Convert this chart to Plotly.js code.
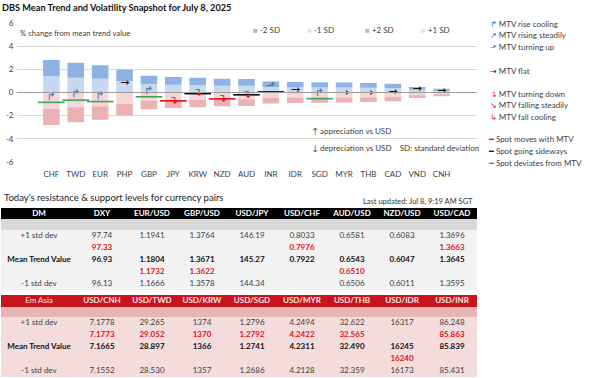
<!DOCTYPE html>
<html>
<head>
<meta charset="utf-8">
<script src="https://cdn.plot.ly/plotly-3.0.1.min.js"></script>
<style>html,body{margin:0;padding:0;background:#fff;}#chart{width:605px;height:378px;}</style>
</head>
<body>
<div id="chart"></div>
<script>
// ---------- chart data ----------
const categories = ['CHF','TWD','EUR','PHP','GBP','JPY','KRW','NZD','AUD','INR','IDR','SGD','MYR','THB','CAD','VND','CNH'];
const sd1 = [1.40,1.28,1.18,0.99,0.72,0.67,0.64,0.59,0.58,0.48,0.45,0.44,0.43,0.41,0.38,0.24,0.16];
const spot = [-0.85,-0.66,-0.78,0.80,-0.37,-0.72,-0.10,-0.55,-0.20,0.05,0.20,-0.53,-0.10,-0.05,0.05,0.30,0.10];
const spotState = ['deviates','deviates','deviates',null,'deviates','moves','sideways','moves','sideways','sideways',null,'deviates',null,null,null,null,null];
const mtvState = ['riseCooling','riseCooling','riseCooling','flat','riseCooling','turningDown','turningDown','turningDown','turningDown','turningUp','flat','riseCooling','flat','flat','flat','flat','flat'];
const yTicks = [-6,-4,-2,0,2,4,6];

// ---------- table data ----------
const dmPairs = ['DXY','EUR/USD','GBP/USD','USD/JPY','USD/CHF','AUD/USD','NZD/USD','USD/CAD'];
const dmPlus1 = ['97.74','1.1941','1.3764','146.19','0.8033','0.6581','0.6083','1.3696'];
const dmSpotAbove = ['97.33','','','','0.7976','','','1.3663'];
const dmMTV = ['96.93','1.1804','1.3671','145.27','0.7922','0.6543','0.6047','1.3645'];
const dmSpotBelow = ['','1.1732','1.3622','','','0.6510','',''];
const dmMinus1 = ['96.13','1.1666','1.3578','144.34','','0.6506','0.6011','1.3595'];

const emPairs = ['USD/CNH','USD/TWD','USD/KRW','USD/SGD','USD/MYR','USD/THB','USD/IDR','USD/INR'];
const emPlus1 = ['7.1778','29.265','1374','1.2796','4.2494','32.622','16317','86.248'];
const emSpotAbove = ['7.1773','29.052','1370','1.2792','4.2422','32.565','','85.863'];
const emMTV = ['7.1665','28.897','1366','1.2741','4.2311','32.490','16245','85.839'];
const emSpotBelow = ['','','','','','','16240',''];
const emMinus1 = ['7.1552','28.530','1357','1.2686','4.2128','32.359','16173','85.431'];
const rowLabels = ['+1 std dev', '', 'Mean Trend Value', '', '-1 std dev'];

// ---------- styles ----------
const W = 605, H = 378;
const FONT = 'Lato, "Open Sans", sans-serif';
const px = v => v / W;
const py = v => 1 - v / H;

const spotColors = {moves:'#e3121b', sideways:'#111111', deviates:'#3aa655'};
const mtvGlyph = {
  riseCooling:{t:'\u21B1', c:'#2e75b6', p:'top center'},
  risingSteadily:{t:'\u2197', c:'#2e75b6', p:'middle center'},
  turningUp:{t:'\u2B0F', c:'#2e75b6', p:'top center'},
  flat:{t:'\u2192', c:'#111111', p:'middle center'},
  turningDown:{t:'\u21B4', c:'#e3121b', p:'middle center'},
  fallingSteadily:{t:'\u2198', c:'#e3121b', p:'middle center'},
  fallCooling:{t:'\u21B3', c:'#e3121b', p:'middle center'}
};

const neg = sd1.map(v => -v);
const traces = [
  {type:'bar', x:categories, y:sd1, name:'+1 SD', marker:{color:'#c6d9f1'}, hoverinfo:'skip'},
  {type:'bar', x:categories, y:sd1, name:'+2 SD', marker:{color:'#8fb2e4'}, hoverinfo:'skip'},
  {type:'bar', x:categories, y:neg, name:'-1 SD', marker:{color:'#f6d6d7'}, hoverinfo:'skip'},
  {type:'bar', x:categories, y:neg, name:'-2 SD', marker:{color:'#ebb1b5'}, hoverinfo:'skip'},
  {type:'scatter', mode:'markers', x:categories,
   y:spot.map((v,i) => spotState[i] ? v : null),
   marker:{symbol:'line-ew', size:19, line:{width:1.6, color:spotState.map(s => s ? spotColors[s] : '#000')}},
   hoverinfo:'skip', cliponaxis:false},
  {type:'scatter', mode:'text', x:categories, y:spot,
   text:mtvState.map(s => mtvGlyph[s].t),
   textposition:mtvState.map(s => mtvGlyph[s].p),
   textfont:{family:'DejaVu Sans', size:11, color:mtvState.map(s => mtvGlyph[s].c)},
   hoverinfo:'skip', cliponaxis:false}
];

// ---------- tables drawn on their own axes ----------
const colW = [76,50,50,50,50,50,50,50,50];
const colEdges = colW.reduce((a, w) => a.concat(a[a.length - 1] + w), [0]);
const colCenters = colW.map((w, i) => colEdges[i] + w / 2);

function buildTable(title, pairs, plus1, above, mtv, below, minus1, rowH, fills, headerColor, titleBold, xa, ya) {
  const rowEdges = rowH.reduce((a, h) => a.concat(a[a.length - 1] + h), [0]);
  const rowCenters = rowH.map((h, i) => rowEdges[i] + h / 2);
  const codes = [0, 1, 2, 2, 2, 2, 2];
  const z = codes.map(c => colW.map(() => c));
  const heat = {type:'heatmap', x:colEdges, y:rowEdges, z:z, zmin:0, zmax:2, showscale:false,
    colorscale:[[0, fills[0]], [0.5, fills[1]], [1, fills[2]]], xaxis:xa, yaxis:ya, hoverinfo:'skip'};
  const tx = [], ty = [], tt = [], tc = [];
  const head = [title].concat(pairs);
  head.forEach((h, i) => { tx.push(colCenters[i]); ty.push(rowCenters[0]); tt.push((i === 0 && !titleBold) ? h : '<b>' + h + '</b>'); tc.push(headerColor); });
  const rows = [plus1, above, mtv, below, minus1];
  const rowColors = ['#404040', '#e3121b', '#111111', '#e3121b', '#404040'];
  const rowBold = [false, true, true, true, false];
  rows.forEach((r, ri) => {
    const lab = rowLabels[ri];
    if (lab) { tx.push(colCenters[0]); ty.push(rowCenters[ri + 2]); tt.push(rowBold[ri] ? '<b>' + lab + '</b>' : lab); tc.push(rowColors[ri]); }
    r.forEach((v, ci) => {
      if (!v) return;
      tx.push(colCenters[ci + 1]); ty.push(rowCenters[ri + 2]);
      tt.push(rowBold[ri] ? '<b>' + v + '</b>' : v); tc.push(rowColors[ri]);
    });
  });
  const text = {type:'scatter', mode:'text', x:tx, y:ty, text:tt, textposition:'middle center',
    textfont:{family:FONT, size:8, color:tc}, xaxis:xa, yaxis:ya, hoverinfo:'skip', cliponaxis:false};
  return {heat, text, total:rowEdges[rowEdges.length - 1]};
}
const dmRowH = [11, 11, 12, 12, 12, 12, 12];
const emRowH = [12, 10, 12, 12, 12, 12, 12];
const dmT = buildTable('DM', dmPairs, dmPlus1, dmSpotAbove, dmMTV, dmSpotBelow, dmMinus1, dmRowH,
  ['#000000', '#d9d9d9', '#f2f2f2'], '#ffffff', true, 'x2', 'y2');
const emT = buildTable('Em Asia', emPairs, emPlus1, emSpotAbove, emMTV, emSpotBelow, emMinus1, emRowH,
  ['#c9141e', '#e8b5b5', '#f5dcdc'], '#fde4e4', false, 'x3', 'y3');
traces.push(dmT.heat, dmT.text, emT.heat, emT.text);

// ---------- annotations ----------
const ann = [];
function addText(text, xpx, ypx, opts) {
  ann.push(Object.assign({xref:'paper', yref:'paper', x:px(xpx), y:py(ypx), text:text, showarrow:false,
    xanchor:'left', yanchor:'middle', font:{family:FONT, size:8, color:'#404040'}}, opts || {}));
}
const topLegend = [['-2 SD','#e8a2a8',251],['-1 SD','#f7dfe1',305],['+2 SD','#b3c39a',363],['+1 SD','#dfe4ee',419]];
topLegend.forEach(l => addText('<span style="color:' + l[1] + '">\u25A0</span> ' + l[0], l[2], 30));
addText('% change from mean trend value', 18, 33, {font:{family:FONT, size:7.7, color:'#404040'}});
addText('\u2191 appreciation vs USD', 310, 131);
addText('\u2193 depreciation vs USD&nbsp;&nbsp;&nbsp;&nbsp;SD: standard deviation', 310, 148);
const rightLegend = [
  ['riseCooling','MTV rise cooling',24],['risingSteadily','MTV rising steadily',35],['turningUp','MTV turning up',47],
  ['flat','MTV flat',71],['turningDown','MTV turning down',94],['fallingSteadily','MTV falling steadily',105],['fallCooling','MTV fall cooling',117]
];
rightLegend.forEach(r => addText('<span style="color:' + mtvGlyph[r[0]].c + ';font-family:DejaVu Sans">' + mtvGlyph[r[0]].t + '</span> ' + r[1], 488, r[2]));
const spotLegend = [['moves','Spot moves with MTV',139],['sideways','Spot going sideways',151],['deviates','Spot deviates from MTV',163]];
spotLegend.forEach(r => addText('<span style="color:' + spotColors[r[0]] + ';font-family:DejaVu Sans">\u2501</span> ' + r[1], 486, r[2]));
addText("Today's resistance &amp; support levels for currency pairs", 2, 197, {font:{family:FONT, size:9.5, color:'#222'}});
addText('Last updated: Jul 8, 9:19 AM SGT', 475, 201, {xanchor:'right', font:{family:FONT, size:7.5, color:'#333'}});

const hiddenAxis = {visible:false, showgrid:false, zeroline:false, fixedrange:true};
const layout = {
  width:W, height:H, margin:{l:0, r:0, t:0, b:0}, paper_bgcolor:'#fff', plot_bgcolor:'rgba(0,0,0,0)',
  title:{text:'<b>DBS Mean Trend and Volatility Snapshot for July 8, 2025</b>', x:px(2), xanchor:'left',
    y:py(8), yanchor:'middle', yref:'container', font:{family:FONT, size:9.2, color:'#111'}},
  barmode:'relative', bargap:0.32, showlegend:false, hovermode:false,
  xaxis:{domain:[px(16.5), px(476.5)], type:'category', showgrid:false, zeroline:false, showline:false,
    ticks:'', tickfont:{family:FONT, size:8, color:'#404040'}, ticklabelstandoff:6, fixedrange:true},
  yaxis:{domain:[py(162), py(23)], range:[-6,6], tickvals:yTicks, ticktext:yTicks.map(String), showgrid:true,
    gridcolor:'#d9d9d9', gridwidth:1, zeroline:false, showline:false, ticks:'',
    tickfont:{family:FONT, size:8, color:'#404040'}, ticklabelstandoff:2, fixedrange:true},
  xaxis2:Object.assign({domain:[px(1), px(477)], range:[0, colEdges[colEdges.length - 1]], anchor:'y2'}, hiddenAxis),
  yaxis2:Object.assign({domain:[py(290), py(208)], range:[dmT.total, 0], anchor:'x2'}, hiddenAxis),
  xaxis3:Object.assign({domain:[px(1), px(477)], range:[0, colEdges[colEdges.length - 1]], anchor:'y3'}, hiddenAxis),
  yaxis3:Object.assign({domain:[py(377), py(295)], range:[emT.total, 0], anchor:'x3'}, hiddenAxis),
  shapes:[{type:'line', xref:'paper', yref:'y', x0:px(16.5), x1:px(476.5), y0:0, y1:0, line:{color:'#9a9a9a', width:1}, layer:'above'}],
  annotations:ann
};
Plotly.newPlot('chart', traces, layout, {staticPlot:true, displayModeBar:false});
</script>
</body>
</html>
